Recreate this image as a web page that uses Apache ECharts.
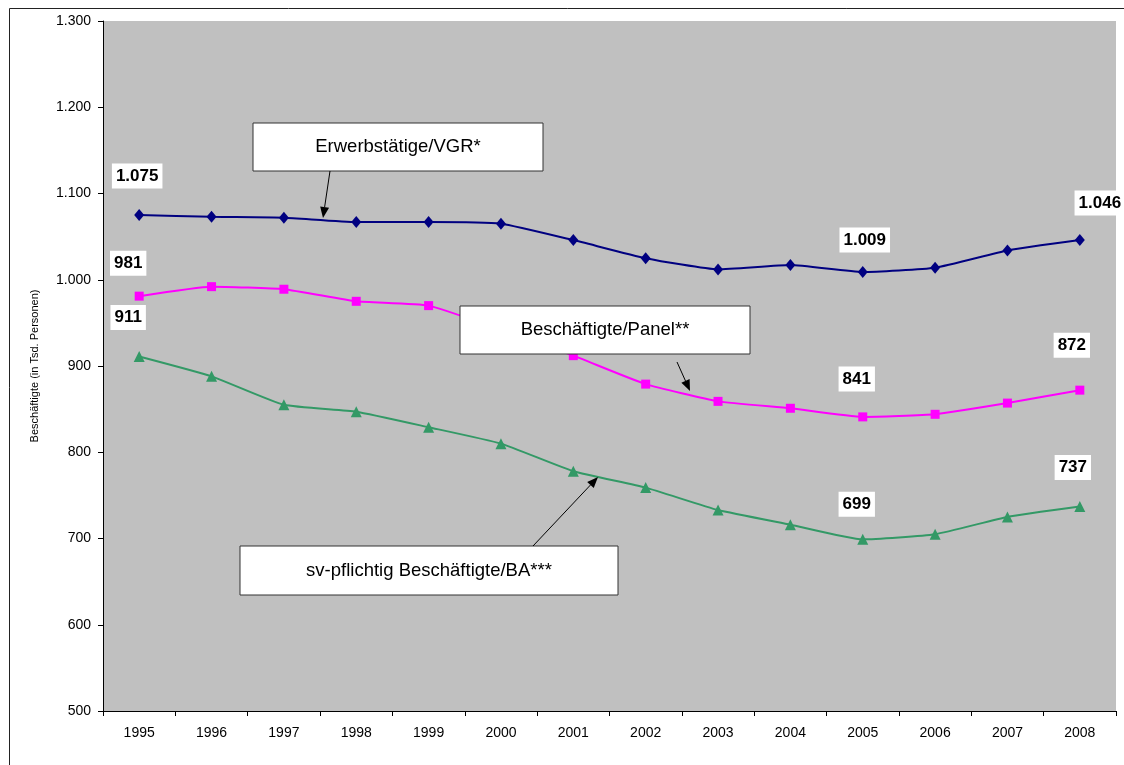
<!DOCTYPE html>
<html>
<head>
<meta charset="utf-8">
<script src="https://cdn.jsdelivr.net/npm/echarts@6/dist/echarts.min.js"></script>
<style>
  html, body { margin: 0; padding: 0; background: #fff; }
  #chart { width: 1124px; height: 765px; }
</style>
</head>
<body>
<div id="chart"></div>
<script>
// Jahre
var years = ['1995', '1996', '1997', '1998', '1999', '2000', '2001', '2002', '2003', '2004', '2005', '2006', '2007', '2008']
// Erwerbstätige/VGR*
var vgr = [1075, 1073, 1072, 1067, 1067, 1065, 1046, 1025, 1012, 1017, 1009, 1014, 1034, 1046]
// Beschäftigte/Panel**
var panel = [981, 992, 989, 975, 970, 942, 912, 879, 859, 851, 841, 844, 857, 872]
// sv-pflichtig Beschäftigte/BA***
var ba = [911, 888, 855, 847, 829, 810, 778, 759, 733, 716, 699, 705, 725, 737]
// Punkte mit Wertbeschriftung
var vgrLabelled = [0, 10, 13]
var panelLabelled = [0, 10, 13]
var baLabelled = [0, 10, 13]

function fmt (v) {
  if (v >= 1000) {
    var r = String(v % 1000)
    while (r.length < 3) r = '0' + r
    return Math.floor(v / 1000) + '.' + r
  }
  return String(v)
}

// Verschiebung der Wertkästchen je Punkt
var offsets = {
  vgr: { 0: [-2, -39], 10: [2, -32], 13: [20, -37] },
  panel: { 0: [-11, -33], 10: [-6, -38], 13: [-8, -45] },
  ba: { 0: [-11, -39], 10: [-6, -35], 13: [-7, -39] }
}

function buildData (values, labelled, key) {
  return values.map(function (v, i) {
    if (labelled.indexOf(i) < 0) return v
    return {
      value: v,
      label: {
        show: true,
        position: 'inside',
        offset: offsets[key][i],
        formatter: fmt(v),
        backgroundColor: '#fff',
        padding: [5, 4, 3, 4],
        color: '#000',
        fontFamily: 'Liberation Sans, Arial, sans-serif',
        fontWeight: 'bold',
        fontSize: 17
      }
    }
  })
}

function arrow (x1, y1, x2, y2) {
  var a = Math.atan2(y2 - y1, x2 - x1)
  var len = 11, w = 4.5
  var bx = x2 - len * Math.cos(a), by = y2 - len * Math.sin(a)
  return {
    type: 'group',
    children: [
      { type: 'line', z: 100, shape: { x1: x1, y1: y1, x2: bx, y2: by }, style: { stroke: '#000', lineWidth: 1 } },
      { type: 'polygon', z: 100, shape: { points: [[x2, y2], [bx + w * Math.sin(a), by - w * Math.cos(a)], [bx - w * Math.sin(a), by + w * Math.cos(a)]] }, style: { fill: '#000' } }
    ]
  }
}

function callout (x, y, w, h, text) {
  return {
    type: 'group',
    children: [
      { type: 'rect', z: 100, shape: { x: x, y: y, width: w, height: h }, style: { fill: '#fff', stroke: '#333', lineWidth: 1 } },
      { type: 'text', z: 101, x: x + w / 2, y: y + h / 2, style: { text: text, fill: '#000', font: '18.5px "Liberation Sans", Arial, sans-serif', align: 'center', verticalAlign: 'middle' } }
    ]
  }
}

var dom = echarts.init(document.getElementById('chart'))
var axisFont = { color: '#000', fontSize: 14, fontFamily: 'Liberation Sans, Arial, sans-serif' }
var option = {
  animation: false,
  backgroundColor: '#fff',
  grid: { left: 103, top: 21, right: 8, bottom: 54, show: true, backgroundColor: '#c0c0c0', borderWidth: 0 },
  xAxis: {
    type: 'category',
    data: years,
    boundaryGap: true,
    axisLine: { lineStyle: { color: '#000', width: 1 } },
    axisTick: { show: true, length: 5, lineStyle: { color: '#000' } },
    axisLabel: Object.assign({ margin: 15 }, axisFont),
    splitLine: { show: false }
  },
  yAxis: {
    type: 'value',
    min: 500,
    max: 1300,
    interval: 100,
    name: 'Beschäftigte (in Tsd. Personen)',
    nameLocation: 'middle',
    nameGap: 63,
    nameTextStyle: { color: '#000', fontSize: 11, fontFamily: 'Liberation Sans, Arial, sans-serif' },
    axisLine: { show: true, lineStyle: { color: '#000', width: 1 } },
    axisTick: { show: true, length: 5, lineStyle: { color: '#000' } },
    axisLabel: Object.assign({ margin: 12, formatter: function (v) { return fmt(v) } }, axisFont),
    splitLine: { show: false }
  },
  series: [
    {
      name: 'Erwerbstätige/VGR*',
      type: 'line',
      data: buildData(vgr, vgrLabelled, 'vgr'),
      smooth: 0.15,
      symbol: 'diamond',
      symbolSize: [10, 12],
      itemStyle: { color: '#000080' },
      lineStyle: { color: '#000080', width: 2 }
    },
    {
      name: 'Beschäftigte/Panel**',
      type: 'line',
      data: buildData(panel, panelLabelled, 'panel'),
      smooth: 0.15,
      symbol: 'rect',
      symbolSize: 9,
      itemStyle: { color: '#ff00ff' },
      lineStyle: { color: '#ff00ff', width: 2 }
    },
    {
      name: 'sv-pflichtig Beschäftigte/BA***',
      type: 'line',
      data: buildData(ba, baLabelled, 'ba'),
      smooth: 0.15,
      symbol: 'triangle',
      symbolSize: 11,
      itemStyle: { color: '#339966' },
      lineStyle: { color: '#339966', width: 2 }
    }
  ],
  graphic: [
    { type: 'rect', shape: { x: 9.5, y: 8.5, width: 1300, height: 900 }, style: { fill: null, stroke: '#222', lineWidth: 1 }, z: -1 },
    callout(253, 123, 290, 48, 'Erwerbstätige/VGR*'),
    arrow(330, 171, 323, 218),
    callout(460, 306, 290, 48, 'Beschäftigte/Panel**'),
    arrow(677, 362, 690, 391),
    callout(240, 546, 378, 49, 'sv-pflichtig Beschäftigte/BA***'),
    arrow(533, 546, 598, 477)
  ]
}
dom.setOption(option)
window.addEventListener('resize', function () { dom.resize() })
</script>
</body>
</html>
